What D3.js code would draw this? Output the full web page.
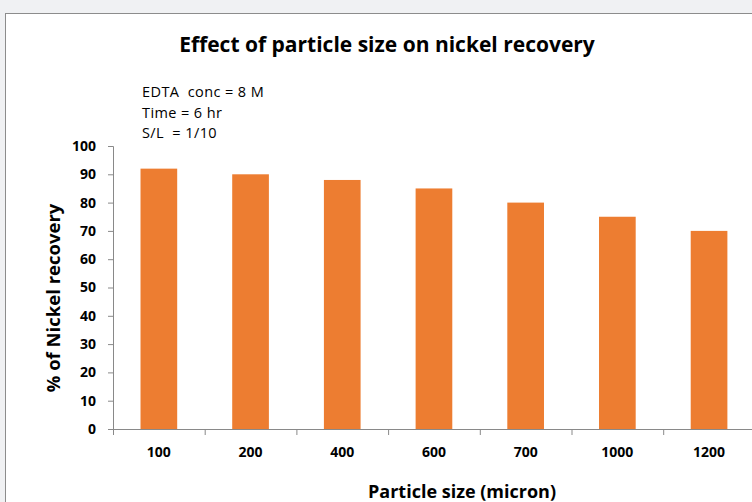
<!DOCTYPE html>
<html>
<head>
<meta charset="utf-8">
<script src="https://cdn.jsdelivr.net/npm/d3@7"></script>
<style>
  html, body { margin: 0; padding: 0; background: #f0f1f3; }
  svg { display: block; }
  text { font-family: "Open Sans", sans-serif; fill: #000; }
</style>
</head>
<body>
<script>
// Particle size categories (micron) and nickel recovery (%)
const sizes = ["100", "200", "400", "600", "700", "1000", "1200"];
const recovery = [92, 90, 88, 85, 80, 75, 70];
const yTicks = [0, 10, 20, 30, 40, 50, 60, 70, 80, 90, 100];
const notes = ["EDTA  conc = 8 M", "Time = 6 hr", "S/L  = 1/10"];

const W = 752, H = 502;
const svg = d3.select("body").append("svg").attr("width", W).attr("height", H);

// chart area frame
svg.append("rect")
  .attr("x", 5.5).attr("y", 13.5).attr("width", 800).attr("height", 520)
  .attr("fill", "#fff").attr("stroke", "#8c8c8c").attr("stroke-width", 1);

const plotLeft = 113, plotTop = 146, plotBottom = 429;
const bandW = 91.7;
const x = d3.scaleBand().domain(sizes)
  .range([plotLeft, plotLeft + bandW * sizes.length])
  .paddingInner(0.6).paddingOuter(0.3);
const y = d3.scaleLinear().domain([0, 100]).range([plotBottom, plotTop]);

// bars
svg.append("g").selectAll("rect").data(recovery).join("rect")
  .attr("x", (d, i) => x(sizes[i]))
  .attr("y", d => y(d))
  .attr("width", x.bandwidth())
  .attr("height", d => y(0) - y(d))
  .attr("fill", "#ed7d31");

const axisColor = "#898989";

// y axis
const yAxis = svg.append("g").attr("transform", `translate(${plotLeft},0)`)
  .call(d3.axisLeft(y).tickValues(yTicks).tickSize(5).tickPadding(12));
yAxis.select(".domain").attr("stroke", axisColor);
yAxis.selectAll(".tick line").attr("stroke", axisColor);
yAxis.selectAll(".tick text")
  .attr("font-family", "'Open Sans', sans-serif")
  .attr("font-weight", "bold").attr("font-size", 14).attr("fill", "#000");

// x axis: ticks at category boundaries
const xAxis = svg.append("g").attr("transform", `translate(0,${plotBottom})`)
  .call(d3.axisBottom(x).tickSize(0).tickPadding(18));
xAxis.select(".domain").attr("stroke", axisColor)
  .attr("d", `M${plotLeft},0.5H${plotLeft + bandW * sizes.length}`);
xAxis.selectAll(".tick text")
  .attr("font-family", "'Open Sans', sans-serif")
  .attr("font-weight", "bold").attr("font-size", 14).attr("fill", "#000");
xAxis.selectAll(".boundary").data(d3.range(sizes.length + 1)).join("line")
  .attr("class", "boundary")
  .attr("x1", i => plotLeft + i * bandW + 0.5).attr("x2", i => plotLeft + i * bandW + 0.5)
  .attr("y1", 0).attr("y2", 6).attr("stroke", axisColor);

// title
svg.append("text").attr("x", 387).attr("y", 52).attr("text-anchor", "middle")
  .attr("font-weight", "bold").attr("font-size", 21)
  .text("Effect of particle size on nickel recovery");

// annotation block
svg.append("g").selectAll("text").data(notes).join("text")
  .attr("x", 142).attr("y", (d, i) => 97 + i * 20.5)
  .attr("font-size", 14.5).attr("letter-spacing", 0.4)
  .style("white-space", "pre")
  .text(d => d);

// axis titles
svg.append("text").attr("x", 462).attr("y", 498).attr("text-anchor", "middle")
  .attr("font-weight", "bold").attr("font-size", 18)
  .text("Particle size (micron)");
svg.append("text")
  .attr("transform", `translate(60,298) rotate(-90)`)
  .attr("text-anchor", "middle").attr("font-weight", "bold").attr("font-size", 18.5)
  .text("% of Nickel recovery");
</script>
</body>
</html>
